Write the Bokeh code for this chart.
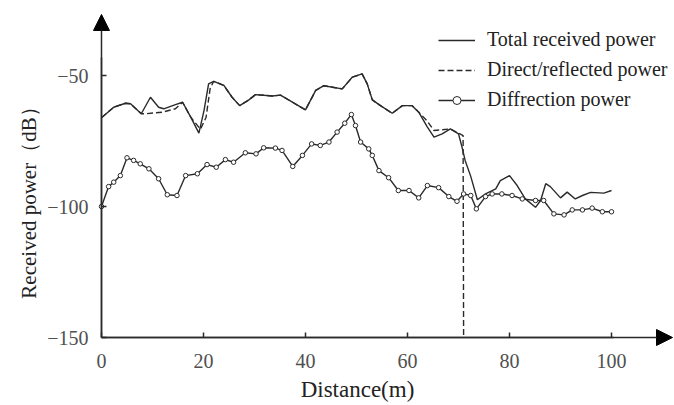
import math
from bokeh.plotting import figure
from bokeh.models import (ColumnDataSource, FixedTicker, Legend, LegendItem,
                          Arrow, NormalHead, Range1d, LinearAxis)
from bokeh.embed import file_html
from bokeh.resources import INLINE

# ---- data ----
total_x = [0, 2.4, 4.7, 5.7, 7.8, 9.6, 11.2, 12.2, 14.5, 15.9, 17.5, 19.1, 20.1, 21.0,
           22.0, 24.0, 25.6, 27.1, 28.9, 30.2, 33.5, 35.1, 40.0, 42.0, 43.6, 47.2,
           49.2, 51.1, 52.1, 53.1, 54.7, 57.0, 59.0, 60.9, 62.2, 63.9, 65.2, 66.8,
           68.4, 70.0, 70.7, 71.3, 72.4, 73.7, 75.3, 77.3, 78.2, 80.0, 81.5, 83.1,
           85.1, 86.1, 87.1, 88.0, 90.0, 91.3, 92.9, 94.3, 95.9, 98.5, 100.0]
total_y = [-66.1, -62.1, -60.6, -60.8, -64.6, -58.3, -62.1, -62.7, -61.1, -60.2, -65.9,
           -72.0, -63.4, -53.2, -52.2, -53.8, -58.3, -61.5, -59.3, -57.3, -57.8, -57.5,
           -63.1, -55.7, -53.9, -55.1, -50.6, -49.4, -53.2, -59.3, -61.5, -64.4, -61.5,
           -61.5, -64.0, -69.7, -73.5, -72.3, -70.4, -72.3, -77.4, -82.4, -88.5, -97.4,
           -95.2, -93.3, -90.1, -88.2, -92.0, -97.1, -100.3, -97.7, -91.3, -92.4, -96.7,
           -94.5, -97.1, -95.8, -94.6, -94.9, -93.9]

direct_x = [0, 2.4, 4.7, 5.7, 7.8, 8.6, 11.9, 14.5, 15.9, 17.5, 19.4, 20.5, 21.3,
            22.0, 24.0, 25.6, 27.1, 28.9, 30.2, 33.5, 35.1, 40.0, 42.0, 43.6, 47.2,
            49.2, 51.1, 52.1, 53.1, 54.7, 57.0, 59.0, 60.9, 61.9, 63.8, 65.2, 68.4,
            70.9, 71.0]
direct_y = [-66.1, -62.1, -60.6, -60.8, -64.6, -64.6, -64.0, -62.7, -60.2, -65.9,
            -70.5, -66.0, -55.0, -52.2, -53.8, -58.3, -61.5, -59.3, -57.3, -57.8,
            -57.5, -63.1, -55.7, -53.9, -55.1, -50.6, -49.4, -53.2, -59.3, -61.5,
            -64.4, -61.5, -61.5, -63.4, -67.2, -71.0, -70.4, -72.9, -150.0]

diff_x = [0, 1.4, 2.4, 3.7, 5.0, 6.3, 7.6, 9.3, 11.2, 12.9, 14.8, 16.5, 18.8, 20.7,
          22.5, 24.3, 25.9, 28.2, 30.3, 31.8, 34.1, 35.4, 37.5, 39.4, 41.2, 42.9,
          44.6, 46.2, 47.7, 49.0, 49.8, 50.8, 52.4, 53.1, 54.4, 56.3, 58.2, 60.3,
          62.2, 63.9, 66.1, 68.1, 69.7, 71.0, 72.4, 73.5, 75.3, 76.6, 78.5, 80.5,
          82.5, 85.1, 86.7, 88.7, 90.7, 92.3, 94.3, 96.2, 98.2, 100.0]
diff_y = [-100.0, -92.4, -90.7, -88.2, -81.4, -82.4, -83.7, -85.6, -89.4, -95.5, -95.8,
          -88.2, -87.5, -84.0, -85.0, -82.1, -83.1, -79.5, -79.9, -77.6, -77.7, -78.6,
          -84.7, -80.5, -76.1, -76.7, -75.4, -71.6, -68.2, -64.9, -69.1, -75.4, -78.0,
          -80.5, -86.3, -89.0, -93.9, -93.9, -96.7, -92.0, -92.8, -96.2, -98.0, -95.2,
          -95.8, -100.9, -96.2, -95.2, -95.2, -95.8, -97.1, -97.7, -97.7, -102.8,
          -103.2, -101.3, -101.3, -100.6, -102.0, -102.0]

x_ticks = [0, 20, 40, 60, 80, 100]
y_ticks = [-150, -100, -50]
y_tick_labels = {-150: "\u2212150", -100: "\u2212100", -50: "\u221250"}

series_names = ["Total received power", "Direct/reflected power", "Diffrection power"]
x_label = "Distance(m)"
y_label = "Received power\uff08dB\uff09"

FONT = "Liberation Serif"
INK = "#2a2a2a"

# the frame covers the whole canvas; axes are drawn at fixed data locations
p = figure(width=674, height=405, output_backend="svg", toolbar_location=None,
           x_range=Range1d(-19.8, 112.35), y_range=Range1d(-175.95, -21.37),
           x_axis_location=None, y_axis_location=None,
           min_border_left=0, min_border_right=0, min_border_top=0,
           min_border_bottom=0)
p.outline_line_color = None
p.xgrid.visible = False
p.ygrid.visible = False

xaxis = LinearAxis(fixed_location=-150, bounds=(0, 100.39),
                   ticker=FixedTicker(ticks=x_ticks))
yaxis = LinearAxis(fixed_location=0, bounds=(-150, -43.13),
                   ticker=FixedTicker(ticks=y_ticks),
                   major_label_overrides=y_tick_labels)

for ax in (xaxis, yaxis):
    ax.axis_line_color = INK
    ax.axis_line_width = 1.5
    ax.major_tick_line_color = INK
    ax.major_tick_line_width = 1.5
    ax.major_tick_in = 5
    ax.major_tick_out = 0
    ax.minor_tick_line_color = None
    ax.major_label_text_font = FONT
    ax.major_label_text_font_size = "20px"
    ax.major_label_text_color = "#505050"
    ax.axis_label_text_font = FONT
    ax.axis_label_text_font_style = "normal"
    ax.axis_label_text_color = "#222222"

xaxis.major_label_standoff = 16
xaxis.axis_label = x_label
xaxis.axis_label_text_font_size = "23px"
xaxis.axis_label_standoff = 6

yaxis.major_label_standoff = 13
yaxis.axis_label = y_label
yaxis.axis_label_text_font_size = "21px"
yaxis.axis_label_standoff = 3

p.add_layout(xaxis, "below")
p.add_layout(yaxis, "left")

src_t = ColumnDataSource(dict(x=total_x, y=total_y))
src_d = ColumnDataSource(dict(x=direct_x, y=direct_y))
src_f = ColumnDataSource(dict(x=diff_x, y=diff_y))

r_t = p.line("x", "y", source=src_t, line_color=INK, line_width=1.4)
r_d = p.line("x", "y", source=src_d, line_color=INK, line_width=1.4, line_dash="6 3")
r_f = p.line("x", "y", source=src_f, line_color=INK, line_width=1.4)
r_fm = p.scatter("x", "y", source=src_f, marker="circle", size=4.5, fill_color="white",
                 line_color=INK, line_width=1)

# axis arrows
p.add_layout(Arrow(end=NormalHead(size=16, fill_color="black", line_color="black"),
                   x_start=0, y_start=-150, x_end=111.96, y_end=-150,
                   line_color=INK, line_width=1.5))
p.add_layout(Arrow(end=NormalHead(size=16, fill_color="black", line_color="black"),
                   x_start=0, y_start=-150, x_end=0, y_end=-26.7,
                   line_color=INK, line_width=1.5))

legend = Legend(items=[LegendItem(label=series_names[0], renderers=[r_t]),
                       LegendItem(label=series_names[1], renderers=[r_d]),
                       LegendItem(label=series_names[2], renderers=[r_f, r_fm])],
                location=(438, 294), padding=0, margin=0, spacing=7,
                glyph_width=37, glyph_height=20, label_height=20, label_standoff=12,
                label_text_font=FONT, label_text_font_size="20px",
                label_text_color="#222222",
                border_line_color=None, background_fill_alpha=0)
p.add_layout(legend)

open("out.html", "w").write(file_html(p, INLINE))
